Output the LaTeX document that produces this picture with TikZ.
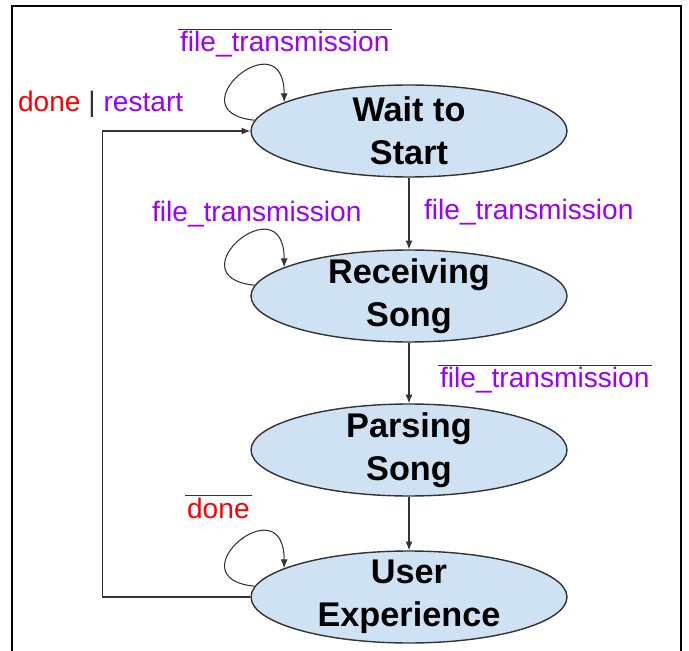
\documentclass[tikz,border=0pt]{standalone}
\usepackage{fontspec}
\setmainfont{Liberation Sans}
\usepackage{xcolor}
\usetikzlibrary{shapes,arrows,positioning,calc,arrows.meta}

\definecolor{sigpurple}{HTML}{9900FF}
\definecolor{sigred}{HTML}{FF0000}
\definecolor{statefill}{HTML}{CFE2F3}
\definecolor{lineclr}{HTML}{333333}

\tikzset{
  state/.style={ellipse, draw=lineclr, line width=0.8pt, fill=statefill,
    minimum width=6.32cm, minimum height=1.84cm, inner xsep=0pt, inner ysep=-8pt,
    align=center, font=\fontsize{19.5}{24.4}\selectfont\bfseries},
  trans/.style={draw=lineclr, line width=0.6pt, -{Latex[length=5pt,width=4pt]}},
  sig/.style={font=\fontsize{16}{19}\selectfont, inner sep=1pt, text=sigpurple},
  bar/.style={draw=lineclr, line width=0.6pt}
}

\begin{document}
\begin{tikzpicture}[x=0.02cm, y=-0.02cm]
    \useasboundingbox (0,0) rectangle (689,651);
    % frame
    \draw[line width=1.2pt] (12,651) -- (12,6) -- (681,6) -- (681,651);
    % states
    \node[state] (W) at (409,131) {Wait to\\Start};
    \node[state] (R) at (409,296) {Receiving\\Song};
    \node[state] (P) at (409,450) {Parsing\\Song};
    \node[state] (U) at (409,597) {User\\Experience};
    % forward transitions
    \draw[trans] (W) -- (R);
    \draw[trans] (R) -- (P);
    \draw[trans] (P) -- (U);
    % self loops
    \draw[trans] (W.176) .. controls +(-82,-8) and +(0,-85) .. (W.167);
    \draw[trans] (R.176) .. controls +(-82,-8) and +(0,-85) .. (R.167);
    \draw[trans] (U.176) .. controls +(-82,-8) and +(0,-85) .. (U.167);
    % back to start
    \draw[trans] (U.west) -- ++(-148,0) |- (W.west);
    % signal labels
    \node[sig, anchor=base west] (s1) at (178,52) {file\_transmission};
    \draw[bar] (s1.north west) -- (s1.north east);
    \node[sig, anchor=base west] (s2) at (16,112) {\textcolor{sigred}{done} \textcolor{lineclr}{|} restart};
    \node[sig, anchor=base west] (s3) at (150,222) {file\_transmission};
    \node[sig, anchor=base west] (s4) at (422,220) {file\_transmission};
    \node[sig, anchor=base west] (s5) at (438,388) {file\_transmission};
    \draw[bar] (s5.north west) -- (s5.north east);
    \node[sig, anchor=base west, text=sigred] (s6) at (185,518) {done};
    \draw[bar] (s6.north west) -- (s6.north east);
\end{tikzpicture}
\end{document}
